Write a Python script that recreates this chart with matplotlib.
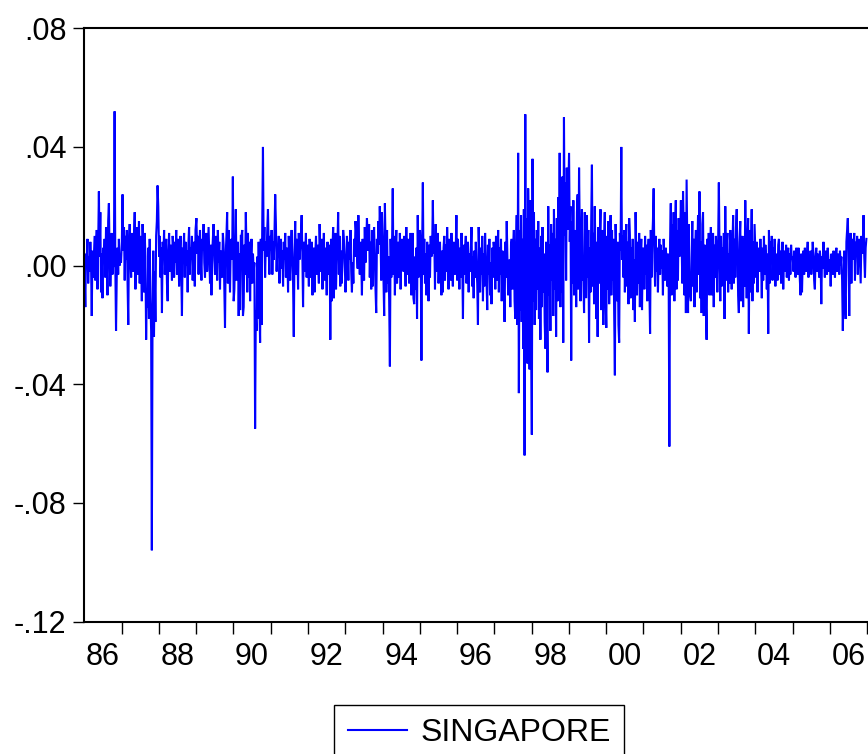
import numpy as np
import pandas as pd
import matplotlib
matplotlib.use("Agg")
import matplotlib.pyplot as plt
import matplotlib.dates as mdates

# Weekly returns of the Singapore index, in thousandths (one list per calendar year)
y1986 = [-3, -14, 4, 2, 9, -6, 3, -2, 8, 1, -17, 5, -4, 3, 10, -5, 6, 12, -8, 7, 25, 3, 18, -9, 4, -11, 6, 2, 9, -4, 13, 7, -10, 15, 21, 4, -7, 0, 11, -3, 0, 0, 52, 0, -22, -4, 6, -3, 9, 0, 3, 1]
y1987 = [8, 24, 5, 13, -5, 10, 2, 12, -6, -20, 9, 14, 3, -4, 11, 6, -2, 9, 18, -8, 4, 13, -3, 7, 15, -6, 10, 2, -12, 14, 5, -9, 11, 3, -25, -8, -14, 6, -18, 9, -11, -22, -96, -15, 5, -24, -2, -19, 10, 15, 27, 20]
y1988 = [3, 10, -4, 6, -16, 8, 2, 12, -3, 5, 9, -6, -12, 4, 11, -2, 7, 3, -5, 10, 6, -4, 8, 1, 12, -3, 5, 9, -7, 4, 10, -2, -17, 6, 3, 11, -4, 8, 0, 5, -9, 7, 13, -3, 6, 2, 10, -5, 4, 8, -7, 12]
y1989 = [16, 4, 10, -3, 7, 12, 2, -5, 9, 5, 14, 1, -4, 8, 11, -2, 6, 13, 3, -6, 7, -10, 4, 9, 14, 2, -3, 10, 6, -5, 12, 1, 8, -8, 5, 3, -4, 11, 7, -7, -21, 4, 10, 18, -6, 12, 3, -9, 6, 9, 2, 30]
y1990 = [-12, -8, 6, 19, -5, 3, 8, -17, 4, -15, 10, 10, 12, -17, -14, 7, -3, 18, 5, -9, 11, -4, 8, -12, 3, 9, -6, 4, -2, 1, -55, -15, -22, 3, -18, 8, -12, -26, 9, -20, 14, 40, 5, 13, -4, 8, 3, 12, 19, 6, -3, 10]
y1991 = [5, 12, -3, 8, 2, 11, 24, 14, -2, 7, 4, 10, -6, 3, 9, -1, 5, -7, 8, 2, 11, -4, 6, 3, -9, 10, 1, -5, 7, 12, 3, -6, -24, 4, 15, -3, 9, 5, -8, 11, 2, 6, 10, 17, 4, -14, 8, -2, 5, 11, -4, 7]
y1992 = [3, -7, 9, 2, -4, 8, -10, 5, 6, -9, 4, 10, -3, 7, 1, -6, 14, 5, -2, 9, -8, 3, 11, -5, 6, 2, -10, 8, 4, -3, 7, -25, 9, -12, 5, 13, -11, 2, 11, -8, 4, 7, 18, -3, 10, -7, 5, -6, 1, 12, 9, 3]
y1993 = [-9, -3, 10, 4, -5, 8, 2, 12, -2, -9, 1, -6, 9, 3, 15, 11, 5, -1, 17, 6, -3, 8, 2, -10, 9, 4, -5, 13, 1, 7, 16, 10, 5, 14, -4, 8, -8, 12, -7, 6, 13, 2, -8, -16, 9, 4, 15, 7, 20, 11, -5, 18]
y1994 = [8, -5, -17, 21, 6, -9, 12, -6, 3, -12, -34, 9, -4, 7, 26, -3, 10, -10, 5, 12, -6, 2, 8, -4, 11, -8, 3, 9, 6, -2, 10, 4, -7, 13, -3, 5, 9, -6, 1, 11, -10, 4, 11, -11, -13, 3, -8, 6, -18, 17, -4, 5]
y1995 = [12, 5, -32, 6, 28, -3, 9, -6, 4, -10, 8, 2, -12, 7, -4, 10, 3, 6, 22, 4, 9, -8, 14, -2, 5, 11, -6, 3, 8, -4, -10, 5, -9, 6, 10, -5, 7, -2, 13, 4, -8, 9, 1, -5, 11, 3, -7, 8, 3, -3, 5, 17]
y1996 = [-5, 9, 3, -8, 6, -4, 11, 2, -18, 7, -3, 5, 10, -6, 1, 8, -9, 4, -2, 6, 13, -7, 3, -11, 5, -4, 8, -1, -6, -20, 13, 2, -9, 6, -3, 10, -12, 4, -7, 11, 2, -5, -15, 7, -3, 9, -10, 1, -13, 6, -4, 8]
y1997 = [4, -8, 10, -5, 2, 12, -9, 6, -3, 9, -12, 5, 1, -7, -19, 8, -4, 15, 3, -10, -6, 2, -14, 7, 9, -8, 5, 12, -12, -18, 4, 17, -20, 38, -43, 12, -15, 17, -19, 9, -28, 19, -64, 51, -30, 16, -33, 26, 8, -35, 22, -18]
y1998 = [-57, 36, -12, 18, -20, 9, -15, 12, -8, 15, -18, 6, -25, 10, -14, 13, -9, 4, -19, -28, 8, -16, -36, 20, -10, 7, -22, 14, -5, 11, -17, 19, -8, 9, -24, 16, -12, 23, -6, 38, -14, 21, -9, 30, -26, 50, 10, 28, -5, 33, 12, 24]
y1999 = [38, 8, 20, -32, 15, -6, 22, -10, 12, 5, -14, 18, 24, -8, 33, 10, -12, 7, 19, -5, -4, -16, 18, 3, -11, 17, -4, 12, -26, 6, -9, 15, 34, -7, 11, -13, 20, 2, -18, 8, -24, 13, -6, 10, 19, -15, 5, 12, -20, 7, 18, -9]
y2000 = [-21, 10, -8, 15, -13, 6, 17, -10, 12, -5, 9, -16, -37, 14, 3, -12, 8, -20, -26, 11, 5, 40, 2, 10, -4, 12, -9, 6, 14, -7, 8, -13, 16, 10, -11, 6, -3, 9, -15, 2, -19, 18, 5, -10, 8, -6, 11, -14, 3, 9, -15, 6]
y2001 = [5, -8, 10, -3, 7, -12, 4, 9, -6, -23, 12, -4, 8, 15, 26, 3, -7, 10, -2, 6, -9, 4, 9, -3, 7, -1, 5, -10, 9, 3, -5, 6, 2, -7, 4, -3, -61, 8, 21, -10, 14, -6, 18, -12, 10, 22, -8, 12, -5, 16, 3, 9]
y2002 = [22, 8, -6, 25, 12, -10, 18, -16, 29, 6, -16, 14, -8, -10, -12, 3, 15, -7, 9, -14, 6, 12, -9, 4, 17, -3, 25, -11, 8, -16, 14, 18, -17, 6, 7, -13, -25, 9, -6, 11, -10, 5, 13, -10, 2, 11, -14, 7, -4, 10, 3, -9]
y2003 = [8, 28, 4, -12, 10, -7, 6, -3, 11, -18, 20, -5, 7, 11, -9, 4, -6, 12, 2, -8, 6, 17, -6, 9, -4, 13, 19, 5, -10, -16, 8, 15, -12, 6, 10, -14, 9, -7, 22, 4, -11, 7, 16, -23, 12, -9, 5, 19, -12, 8, -6, 14]
y2004 = [5, -4, 8, -9, 3, 6, -2, 9, 1, -11, 6, -5, 10, -3, 7, 2, -8, 4, -23, 12, -6, 8, 3, 10, -5, 6, -2, 9, -7, 4, 1, -5, 7, 9, -3, 5, -6, 2, 8, -8, 3, 5, -2, 7, -4, 3, 6, -5, 4, -3, 7, 2]
y2005 = [3, -2, 5, 1, -4, 6, 2, -3, 6, 3, -5, -10, 4, -9, 2, 5, -3, 6, 1, -2, 4, 8, -4, 3, -1, 5, -3, 2, 8, 4, -5, -8, 3, 6, -2, 4, 1, -4, 5, 2, -13, 3, -1, 8, 2, -4, 5, 1, -3, 6, 2, -2]
y2006 = [2, -7, 4, 1, -3, 5, 2, -4, 3, 6, -2, 1, 4, -3, 5, 0, 3, -5, -22, -8, 5, -10, -18, 8, 12, 16, 4, -17, 5, 11, -6, 9, 2, 7, 11, -5, 8, 4, 10, -3, 6, 9, 2, -6, 10, 4, 7, 17, 3, -4, 6, 9]

years = list(range(1986, 2007))
yearly = [y1986, y1987, y1988, y1989, y1990, y1991, y1992, y1993, y1994, y1995,
          y1996, y1997, y1998, y1999, y2000, y2001, y2002, y2003, y2004, y2005, y2006]

series_name = "SINGAPORE"
ytick_values = [0.08, 0.04, 0.00, -0.04, -0.08, -0.12]
ytick_labels = [".08", ".04", ".00", "-.04", "-.08", "-.12"]
label_years = list(range(1986, 2007, 2))

# weekly dates within each year
dates = []
values = []
for yr, vals in zip(years, yearly):
    d = pd.date_range(f"{yr}-01-03", periods=len(vals), freq="7D")
    dates.extend(d)
    values.extend(v / 1000.0 for v in vals)
dates = pd.DatetimeIndex(dates)
values = np.array(values)

plt.rcParams["font.family"] = ["Liberation Sans", "DejaVu Sans"]

W, H = 868, 754
fig = plt.figure(figsize=(W / 100, H / 100), dpi=100)
left, right, top, bottom = 84.4, 870.0, 28.3, 621.5
ax = fig.add_axes([left / W, 1 - bottom / H, (right - left) / W, (bottom - top) / H])

ax.plot(dates, values, color="#0000ff", lw=1.5, label=series_name,
        solid_joinstyle="miter")

ax.set_ylim(-0.12, 0.08)
ax.set_yticks(ytick_values)
ax.set_yticklabels(ytick_labels)

x0 = pd.Timestamp("1986-01-01")
x1 = pd.Timestamp("2007-01-01") + pd.Timedelta(days=(right - 867.0) / 37.3 * 365.25)
ax.set_xlim(x0, x1)

major = [mdates.date2num(pd.Timestamp(f"{y}-01-01")) for y in range(1987, 2008)]
minor = [mdates.date2num(pd.Timestamp(f"{y}-07-02")) for y in label_years]
ax.set_xticks(major)
ax.set_xticklabels([""] * len(major))
ax.set_xticks(minor, minor=True)
ax.set_xticklabels([f"{y % 100:02d}" for y in label_years], minor=True)

ax.tick_params(axis="x", which="major", direction="out", length=8.6, width=1.0,
               color="black")
ax.tick_params(axis="x", which="minor", length=0, pad=15, labelsize=22)
ax.tick_params(axis="y", which="major", direction="out", length=7.9, width=1.0,
               pad=5, labelsize=22)
ax.tick_params(top=False, right=False)

for sp in ax.spines.values():
    sp.set_linewidth(1.5)
    sp.set_color("black")

leg = fig.legend(loc="upper center", bbox_to_anchor=(479 / W, 1 - 705 / H),
                 frameon=True, fancybox=False, edgecolor="black", framealpha=1,
                 fontsize=23, handlelength=1.85, handletextpad=0.42,
                 borderpad=0.42, borderaxespad=0)
leg.get_frame().set_linewidth(1.0)

fig.savefig("out.png", dpi=100)
